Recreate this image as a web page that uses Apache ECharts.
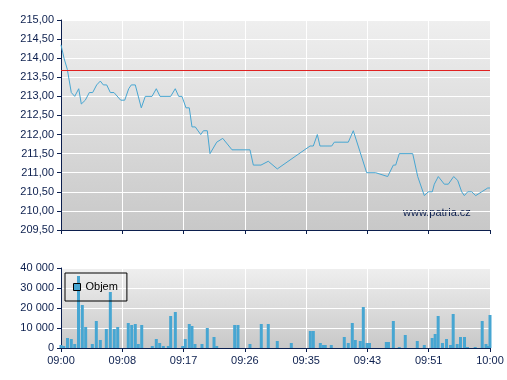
<!DOCTYPE html>
<html>
<head>
<meta charset="utf-8">
<script src="https://cdn.jsdelivr.net/npm/echarts@6/dist/echarts.min.js"></script>
<style>
html,body{margin:0;padding:0;background:#fff;}
#chart{width:507px;height:380px;}
</style>
</head>
<body>
<div id="chart"></div>
<script>
// ---- data ----
const timeTicks = ["09:00","09:08","09:17","09:26","09:35","09:43","09:51","10:00"];

// price line: minutes after 09:00, price
const priceMinutes = [0,0.42,0.88,1.44,1.92,2.48,2.84,3.40,3.96,4.43,4.99,5.50,5.92,6.39,6.90,7.41,8.35,8.91,9.47,9.83,10.39,11.23,11.79,12.73,13.33,13.85,15.34,15.98,16.46,16.92,17.48,17.94,18.32,18.78,19.54,19.92,20.46,20.84,21.78,22.62,23.92,26.43,26.90,27.97,28.99,30.25,34.83,35.29,35.85,36.22,37.86,38.22,40.18,40.88,41.82,42.75,44.01,45.69,46.48,46.81,47.31,49.19,49.89,50.81,51.37,51.93,52.21,52.77,53.61,54.17,54.92,55.48,56.04,56.41,56.88,57.44,58.00,58.84,59.68,60];
const priceValues = [214.35,214.0,213.71,213.1,213.0,213.2,212.8,212.9,213.1,213.1,213.3,213.4,213.3,213.3,213.1,213.1,212.9,212.9,213.2,213.3,213.3,212.7,213.0,213.0,213.2,213.0,213.0,213.2,213.0,213.0,212.7,212.7,212.2,212.2,212.0,212.1,212.1,211.5,211.8,211.9,211.6,211.6,211.2,211.2,211.3,211.1,211.7,211.7,212.0,211.7,211.7,211.8,211.8,212.1,211.55,211.0,211.0,210.9,211.2,211.2,211.5,211.5,210.9,210.4,210.5,210.5,210.7,210.9,210.7,210.7,210.9,210.8,210.5,210.4,210.5,210.5,210.4,210.5,210.6,210.6];
const referencePrice = 213.68;

// volume bars: minutes after 09:00, volume
const volumeMinutes = [0,0.38,0.91,1.44,1.92,2.45,2.98,3.45,4.38,4.94,5.50,6.34,6.90,7.45,7.93,9.41,9.89,10.39,10.81,11.29,12.77,13.33,13.80,14.31,15.01,15.34,15.99,17.02,17.38,17.94,18.32,18.74,19.72,20.46,21.40,21.78,24.29,24.75,26.43,28.01,28.99,30.25,32.21,34.87,35.29,36.27,36.68,36.96,37.80,39.62,40.18,40.74,41.16,41.86,42.28,42.80,43.15,45.50,45.80,46.48,47.31,48.15,49.83,50.81,51.91,52.33,52.75,53.35,53.92,54.48,54.85,55.41,55.87,56.43,56.85,57.93,58.91,59.44,59.72,60];
const volumeValues = [1500,1000,5000,4500,2000,36000,21500,10500,2000,13500,4000,9500,28000,9500,10500,12500,11500,12000,2000,11500,1000,4500,2500,1000,1000,16000,18000,1000,4500,12000,11000,2000,2000,10000,5500,1000,11500,11500,2000,12000,12000,3500,2500,8500,8500,2500,1500,1500,1500,5500,2500,12500,4000,3500,20500,2500,2500,3000,3000,13500,500,6500,3500,1500,5000,7000,16000,2500,4500,1500,17000,2000,5500,5500,500,500,13500,2000,1000,16500];

// ---- chart ----
const NAVY = '#0c1f4e';
const FONT = '"Liberation Sans", Arial, sans-serif';
const SERIES_COLOR = '#47a6d2';
const bg = function(){ return {type:'linear',x:0,y:0,x2:0,y2:1,colorStops:[{offset:0,color:'#efefef'},{offset:1,color:'#c8c8c8'}]}; };
const step = 60 / 7;
function timeLabel(v){ const i = Math.round(v / step); return timeTicks[i] !== undefined ? timeTicks[i] : ''; }
function priceLabel(v){ return v.toFixed(2).replace('.', ','); }
function volLabel(v){ return String(Math.round(v)).replace(/\B(?=(\d{3})+(?!\d))/g, ' '); }

const chart = echarts.init(document.getElementById('chart'), null, {renderer:'canvas'});
const axisCommon = {
  axisLine:{show:true,onZero:false,lineStyle:{color:NAVY,width:1}},
  axisTick:{show:true,length:4,inside:false,lineStyle:{color:NAVY,width:1}},
  splitLine:{show:true,lineStyle:{color:'#ffffff',width:1}}
};
chart.setOption({
  animation:false,
  backgroundColor:'#ffffff',
  grid:[
    {left:61,top:20,width:429,height:210,show:true,backgroundColor:bg(),borderWidth:0},
    {left:61,top:268,width:429,height:80,show:true,backgroundColor:bg(),borderWidth:0}
  ],
  xAxis:[
    Object.assign({type:'value',gridIndex:0,min:0,max:60,interval:step,
      axisLabel:{show:false}}, axisCommon),
    Object.assign({type:'value',gridIndex:1,min:0,max:60,interval:step,
      axisLabel:{show:true,formatter:timeLabel,color:NAVY,fontSize:11,fontFamily:FONT,margin:7}}, axisCommon)
  ],
  yAxis:[
    Object.assign({type:'value',gridIndex:0,min:209.5,max:215,interval:0.5,
      axisLabel:{formatter:priceLabel,color:NAVY,fontSize:11,fontFamily:FONT,margin:7}}, axisCommon),
    Object.assign({type:'value',gridIndex:1,min:0,max:40000,interval:10000,
      axisLabel:{formatter:volLabel,color:NAVY,fontSize:11,fontFamily:FONT,margin:7}}, axisCommon)
  ],
  legend:{
    show:true,left:65,top:273,orient:'horizontal',
    data:[{name:'Objem',icon:'rect'}],
    itemWidth:7,itemHeight:7,
    itemStyle:{borderColor:'#000',borderWidth:1},
    textStyle:{color:'#000',fontSize:11,fontFamily:FONT,lineHeight:12},
    borderColor:'#000',borderWidth:1,borderRadius:0,
    padding:[8,9,8,8],
    backgroundColor:'transparent'
  },
  graphic:[{type:'text',left:403,top:207,silent:true,
    style:{text:'www.patria.cz',fill:NAVY,font:'11px ' + FONT}}],
  series:[
    {type:'line',name:'Cena',xAxisIndex:0,yAxisIndex:0,
      data:priceMinutes.map((m,i)=>[m,priceValues[i]]),
      showSymbol:false,symbol:'none',lineStyle:{color:SERIES_COLOR,width:1},itemStyle:{color:SERIES_COLOR},
      clip:true,
      markLine:{silent:true,symbol:['none','none'],label:{show:false},
        lineStyle:{color:'#e02020',width:1,type:'solid'},
        data:[{yAxis:referencePrice}]}
    },
    {type:'bar',name:'Objem',xAxisIndex:1,yAxisIndex:1,
      data:volumeMinutes.map((m,i)=>[m,volumeValues[i]]),
      barWidth:3,clip:true,itemStyle:{color:SERIES_COLOR}}
  ]
});
</script>
</body>
</html>
